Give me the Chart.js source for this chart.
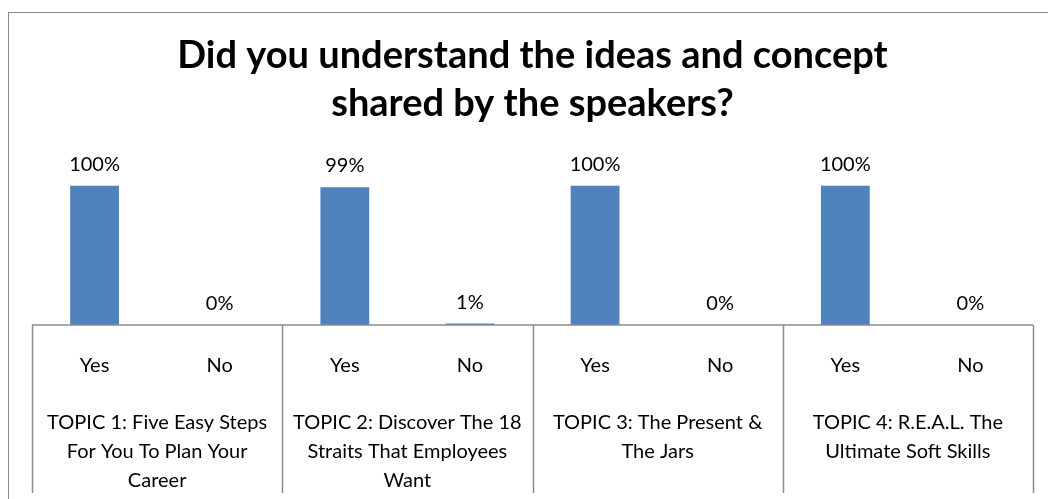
<!DOCTYPE html>
<html>
<head>
<meta charset="utf-8">
<script src="https://cdn.jsdelivr.net/npm/chart.js@4/dist/chart.umd.min.js"></script>
<style>
    html, body { margin: 0; padding: 0; background: #fff; }
    #wrap { position: relative; width: 1048px; height: 499px; overflow: hidden; }
    #frame { position: absolute; left: 8px; top: 12px; width: 1100px; height: 600px; border: 1px solid #8a8a8a; box-sizing: border-box; }
    canvas { position: absolute; left: 0; top: 0; }
</style>
</head>
<body>
<div id="wrap">
    <div id="frame"></div>
    <canvas id="chart" width="1048" height="499"></canvas>
</div>
<script>
// --- data ---
const answers = ['Yes', 'No', 'Yes', 'No', 'Yes', 'No', 'Yes', 'No'];
const topics = [
    ['TOPIC 1: Five Easy Steps', 'For You To Plan Your', 'Career'],
    ['TOPIC 2: Discover The 18', 'Straits That Employees', 'Want'],
    ['TOPIC 3: The Present &', 'The Jars'],
    ['TOPIC 4: R.E.A.L. The', 'Ultimate Soft Skills']
];
const percentValues = [100, 0, 99, 1, 100, 0, 100, 0];
const titleLines = ['Did you understand the ideas and concept', 'shared by the speakers?'];

const FONT = 'Lato, "Liberation Sans", sans-serif';
const LINE_GREY = '#8c8c8c';

// value labels above each bar
const valueLabels = {
    id: 'valueLabels',
    afterDatasetsDraw(chart) {
        const ctx = chart.ctx;
        const meta = chart.getDatasetMeta(0);
        ctx.save();
        ctx.font = '20px ' + FONT;
        ctx.fillStyle = '#000';
        ctx.textAlign = 'center';
        ctx.textBaseline = 'alphabetic';
        meta.data.forEach((bar, i) => {
            ctx.fillText(percentValues[i] + '%', bar.x, bar.y - 15);
        });
        ctx.restore();
    }
};

// axis line + group dividers of the two-level category axis
const groupLines = {
    id: 'groupLines',
    afterDraw(chart) {
        const ctx = chart.ctx;
        const area = chart.chartArea;
        const groupScale = chart.scales.x2;
        const step = groupScale.width / topics.length;
        ctx.save();
        ctx.strokeStyle = LINE_GREY;
        ctx.lineWidth = 1.5;
        ctx.beginPath();
        ctx.moveTo(area.left, area.bottom);
        ctx.lineTo(area.right, area.bottom);
        for (let i = 0; i <= topics.length; i++) {
            const x = Math.round(groupScale.left + i * step) + 0.5;
            ctx.moveTo(x, area.bottom);
            ctx.lineTo(x, groupScale.bottom - 4);
        }
        ctx.stroke();
        ctx.restore();
    }
};

new Chart(document.getElementById('chart'), {
    type: 'bar',
    data: {
        labels: answers,
        datasets: [{
            data: percentValues.map(v => v / 100),
            backgroundColor: '#4F81BD',
            borderWidth: 0,
            categoryPercentage: 1,
            barPercentage: 0.39
        }]
    },
    options: {
        responsive: false,
        animation: false,
        layout: { padding: { left: 32, right: 15, top: 8, bottom: 2 } },
        plugins: {
            legend: { display: false },
            tooltip: { enabled: false },
            title: {
                display: true,
                text: titleLines,
                color: '#000',
                font: { family: FONT, size: 38, weight: 'bold', lineHeight: 48 / 38 },
                padding: { top: 24, bottom: 30 }
            }
        },
        scales: {
            y: { display: false, min: 0, max: 1.2 },
            x: {
                position: 'bottom',
                weight: 0,
                grid: { display: false, drawTicks: false },
                border: { display: false },
                ticks: {
                    color: '#000', padding: 29, autoSkip: false, maxRotation: 0,
                    font: { family: FONT, size: 20, lineHeight: 1.2 }
                }
            },
            x2: {
                type: 'category',
                position: 'bottom',
                weight: 1,
                labels: topics,
                grid: { display: false, drawTicks: false },
                border: { display: false },
                ticks: {
                    color: '#000', padding: 1.5, autoSkip: false, maxRotation: 0,
                    font: { family: FONT, size: 20, lineHeight: 29 / 20 }
                }
            }
        }
    },
    plugins: [valueLabels, groupLines]
});
</script>
</body>
</html>
